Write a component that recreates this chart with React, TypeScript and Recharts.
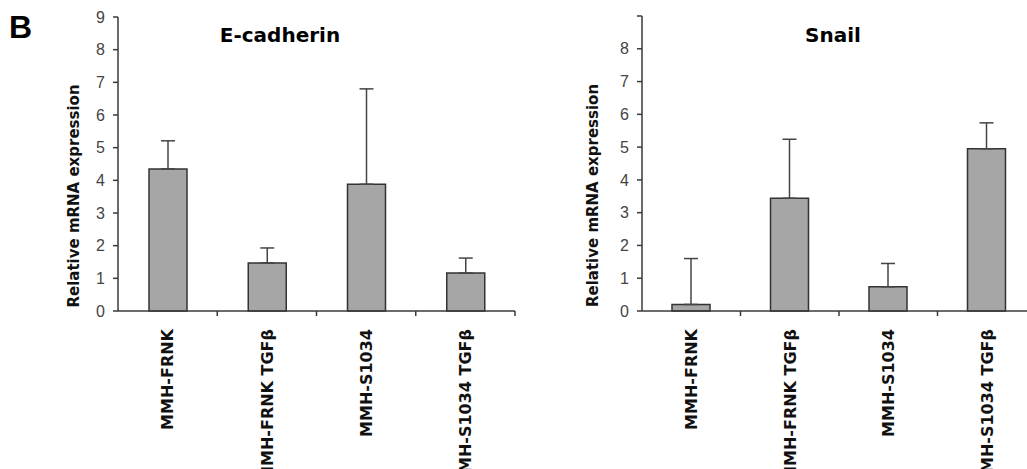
import React from "react";
import { BarChart, Bar, XAxis, YAxis, ErrorBar } from "recharts";

const categories = ["MMH-FRNK", "MMH-FRNK TGFβ", "MMH-S1034", "MMH-S1034 TGFβ"];
const ecadMean = [4.35, 1.47, 3.88, 1.16];
const ecadErr = [0.86, 0.46, 2.92, 0.46];
const snailMean = [0.2, 3.44, 0.74, 4.95];
const snailErr = [1.4, 1.8, 0.71, 0.79];
const yTicks = [0, 1, 2, 3, 4, 5, 6, 7, 8, 9];

const ecadData = categories.map((name, i) => ({ name, value: ecadMean[i], err: [0, ecadErr[i]] }));
const snailData = categories.map((name, i) => ({ name, value: snailMean[i], err: [0, snailErr[i]] }));

const labelFont = "'DejaVu Sans', sans-serif";
const axisColor = "#3a3a3a";

const CategoryTick = (props: any) => {
  const { x, y, payload, index, band, count } = props;
  const ty = y + 18;
  return (
    <g>
      {index > 0 && (
        <line x1={x - band / 2} x2={x - band / 2} y1={y} y2={y + 5} stroke={axisColor} strokeWidth={1.5} />
      )}
      {index === count - 1 && (
        <line x1={x + band / 2} x2={x + band / 2} y1={y} y2={y + 5} stroke={axisColor} strokeWidth={1.5} />
      )}
      <text
        x={x}
        y={ty}
        transform={`rotate(-90 ${x} ${ty})`}
        textAnchor="end"
        dy="0.36em"
        fontFamily={labelFont}
        fontWeight="bold"
        fontSize={16}
        fill="#111"
      >
        {payload.value}
      </text>
    </g>
  );
};

// gap = distance from the y axis line to the centre of the rotated title
const YTitle = (props: any) => {
  const { viewBox, gap } = props;
  const cx = viewBox.x + viewBox.width - gap;
  const cy = viewBox.y + viewBox.height / 2 + 32;
  return (
    <text
      x={cx}
      y={cy}
      transform={`rotate(-90 ${cx} ${cy})`}
      textAnchor="middle"
      dy="0.36em"
      fontFamily={labelFont}
      fontWeight="bold"
      fontSize={15}
      fill="#111"
    >
      Relative mRNA expression
    </text>
  );
};

type PanelProps = {
  data: any[];
  left: number;
  marginLeft: number;
  marginRight: number;
  marginTop: number;
  gap: number;
  hideTop?: boolean;
};

const Panel = ({ data, left, marginLeft, marginRight, marginTop, gap, hideTop }: PanelProps) => {
  const width = 520;
  const band = (width - marginLeft - 40 - marginRight) / categories.length;
  return (
    <div style={{ position: "absolute", left, top: 0 }}>
      <BarChart
        width={width}
        height={469}
        data={data}
        margin={{ top: marginTop, right: marginRight, bottom: 0, left: marginLeft }}
        barCategoryGap={0}
      >
        <XAxis
          dataKey="name"
          height={158}
          interval={0}
          tickSize={0}
          tickMargin={0}
          stroke={axisColor}
          strokeWidth={1.5}
          tick={<CategoryTick band={band} count={categories.length} />}
        />
        <YAxis
          width={40}
          domain={[0, 9]}
          ticks={yTicks}
          interval={0}
          tickSize={5}
          tickMargin={8}
          stroke={axisColor}
          strokeWidth={1.5}
          tickFormatter={(v: number) => (hideTop && v === 9 ? "" : String(v))}
          tick={{ fill: "#444", fontSize: 16, fontFamily: "'Liberation Sans', Arial, sans-serif" }}
          label={{ content: (p: any) => <YTitle {...p} gap={gap} /> }}
        />
        <Bar dataKey="value" fill="#a6a6a6" stroke="#333" strokeWidth={1.5} barSize={38} isAnimationActive={false}>
          <ErrorBar dataKey="err" direction="y" width={7} stroke="#444" strokeWidth={1.5} />
        </Bar>
      </BarChart>
    </div>
  );
};

export default function App() {
  return (
    <div
      style={{
        position: "absolute",
        left: 0,
        top: 0,
        width: 1027,
        height: 469,
        overflow: "hidden",
        background: "#fff",
      }}
    >
      <Panel data={ecadData} left={0} marginLeft={78} marginRight={5} marginTop={17} gap={44} />
      <Panel data={snailData} left={520} marginLeft={82} marginRight={4} marginTop={16} gap={49} hideTop />
      <svg width={1027} height={469} style={{ position: "absolute", left: 0, top: 0, pointerEvents: "none" }}>
        <text x={9} y={38} fontFamily="'Liberation Sans', Arial, sans-serif" fontWeight="bold" fontSize={32} fill="#000">
          B
        </text>
        <text x={280} y={42} textAnchor="middle" fontFamily={labelFont} fontWeight="bold" fontSize={20} fill="#000">
          E-cadherin
        </text>
        <text x={833} y={42} textAnchor="middle" fontFamily={labelFont} fontWeight="bold" fontSize={20} fill="#000">
          Snail
        </text>
      </svg>
    </div>
  );
}
